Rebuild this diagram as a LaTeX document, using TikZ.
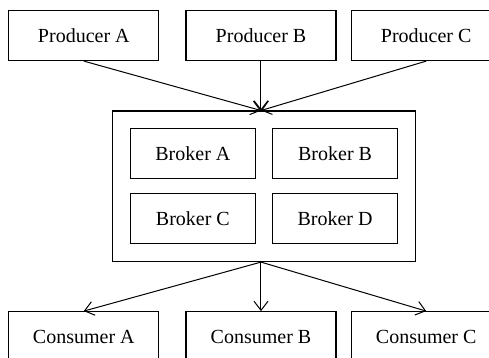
\documentclass[tikz,border=0pt]{standalone}
\usepackage{fontspec}
\setmainfont{Liberation Serif}
\usepackage{tikz}
\usetikzlibrary{arrows.meta, positioning, fit}
\tikzset{
    client/.style={
        rectangle,
        draw=black,
        line width=0.6pt,
        minimum width=75pt,
        minimum height=25pt,
        fill=white,
        font=\normalsize
    },
    broker/.style={
        rectangle,
        draw=black,
        line width=0.6pt,
        minimum width=62.5pt,
        minimum height=25pt,
        fill=white,
        font=\normalsize
    },
    cluster/.style={
        rectangle,
        draw=black,
        line width=0.6pt,
        inner xsep=8.5pt,
        inner ysep=8.5pt
    },
    wire/.style={
        draw=black,
        line width=0.5pt,
        -{Straight Barb[length=4.5pt, width=7pt]}
    }
}
\begin{document}
\begin{tikzpicture}

\useasboundingbox (-130.5pt,-161.25pt) rectangle (114pt,17.75pt);

% Producers
\node[client] (prod_b) {Producer B};
\node[client, left=13pt of prod_b] (prod_a) {Producer A};
\node[client, right=7pt of prod_b] (prod_c) {Producer C};

% Brokers
\node[broker, below left=33.5pt and 2.5pt of prod_b.south] (broker_a) {Broker A};
\node[broker, right=8pt of broker_a] (broker_b) {Broker B};
\node[broker, below=7pt of broker_a] (broker_c) {Broker C};
\node[broker, right=8pt of broker_c] (broker_d) {Broker D};

% Broker cluster
\node[cluster, fit=(broker_a)(broker_d)] (cluster) {};

% Consumers
\node[client, below=24.5pt of cluster, xshift=-1.5pt] (cons_b) {Consumer B};
\node[client, left=13pt of cons_b] (cons_a) {Consumer A};
\node[client, right=7pt of cons_b] (cons_c) {Consumer C};

% Publish (all meet under Producer B)
\draw[wire] (prod_a.south) -- (prod_b.south |- cluster.north);
\draw[wire] (prod_b.south) -- (prod_b.south |- cluster.north);
\draw[wire] (prod_c.south) -- (prod_b.south |- cluster.north);

% Consume
\draw[wire] (cons_b.north |- cluster.south) -- (cons_a.north);
\draw[wire] (cons_b.north |- cluster.south) -- (cons_b.north);
\draw[wire] (cons_b.north |- cluster.south) -- (cons_c.north);

\end{tikzpicture}
\end{document}
